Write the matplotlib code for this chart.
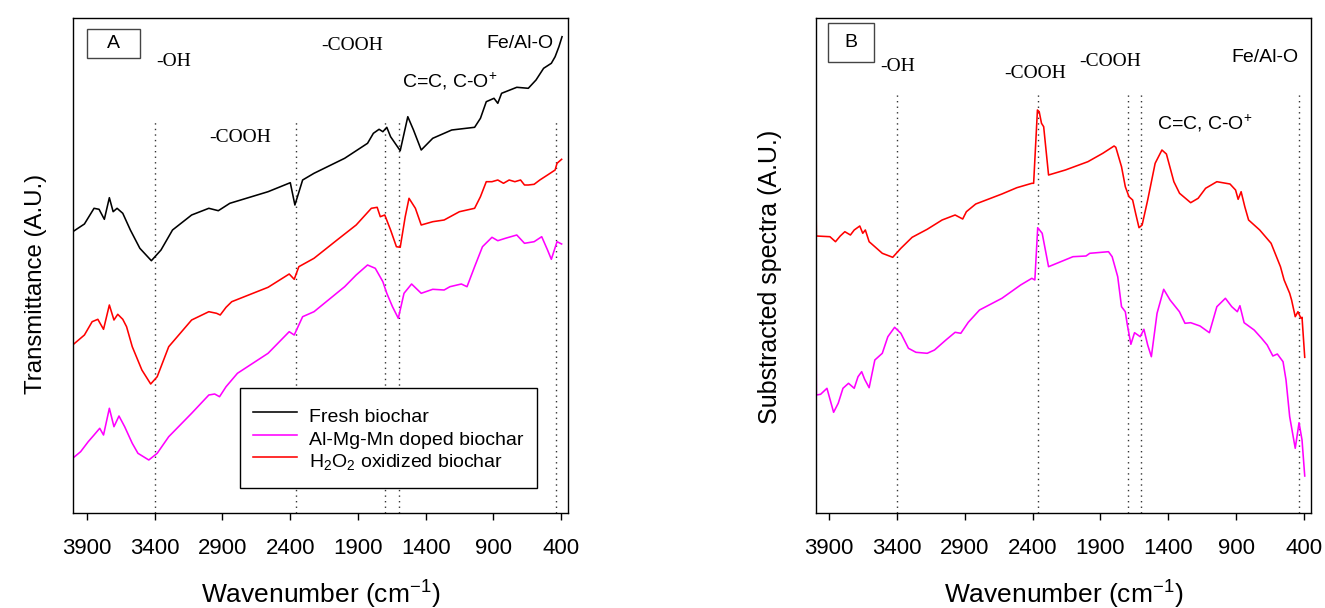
import matplotlib
matplotlib.use("Agg")
import matplotlib.pyplot as plt
from matplotlib.patches import Rectangle

plt.rcParams['font.family'] = ['Liberation Sans', 'DejaVu Sans']
plt.rcParams['mathtext.fontset'] = 'custom'
plt.rcParams['mathtext.rm'] = 'Liberation Sans'
plt.rcParams['mathtext.it'] = 'Liberation Sans:italic'
plt.rcParams['mathtext.bf'] = 'Liberation Sans:bold'

# ---------------- data (wavenumber, relative intensity in arbitrary units) ----------------
fresh_wn = [3996, 3918, 3847, 3810, 3771, 3734, 3706, 3677, 3635, 3579, 3509, 3424, 3353, 3268,
            3127, 3000, 2930, 2845, 2563, 2399, 2365, 2308, 2224, 1998, 1829, 1786, 1744, 1716,
            1687, 1659, 1588, 1532, 1490, 1433, 1348, 1208, 1039, 996, 953, 896, 868, 840, 728,
            643, 586, 530, 473, 445, 417, 394]
fresh_val = [282, 289, 304.7, 303.7, 293.7, 315.3, 301.3, 304.7, 299.7, 283, 264.7, 252.3, 263, 283,
             298, 304.7, 302.3, 309.7, 321.3, 330.3, 308, 333, 339.7, 354.7, 369.7, 379.7, 383.7, 381.3,
             385.7, 376.3, 362.3, 396.3, 383, 363, 374.7, 383, 385.7, 394.7, 411.3, 414.7, 409.7, 419.7,
             425.7, 424.7, 433, 444.7, 449.7, 456.3, 466.3, 476.3]

oxid_wn = [3996, 3918, 3861, 3819, 3777, 3734, 3700, 3672, 3635, 3607, 3565, 3494, 3429, 3381,
           3296, 3127, 3000, 2943, 2916, 2873, 2831, 2563, 2407, 2370, 2336, 2224, 2054, 1913,
           1801, 1758, 1735, 1702, 1659, 1616, 1588, 1551, 1523, 1476, 1433, 1348, 1264, 1151,
           1039, 996, 953, 911, 868, 826, 784, 742, 700, 671, 643, 600, 558, 501, 445, 431, 397]
oxid_val = [169, 178, 191.3, 193.7, 183.7, 208, 193, 198.7, 193.7, 186.3, 166.3, 143, 129, 136.3,
            166.3, 193, 201.3, 199.7, 198, 205.7, 211.3, 225.7, 239, 233.7, 246.3, 254.7, 273, 288,
            304.7, 305.7, 296.3, 298, 283, 266.3, 265.7, 296.3, 314.7, 304.7, 288, 291.3, 293, 301.3,
            304.7, 316.3, 331.3, 331.3, 333, 329.7, 333, 331.3, 333, 328, 328, 328.7, 333, 338, 343, 349.7, 353.7]

doped_wn = [3996, 3946, 3890, 3847, 3805, 3777, 3734, 3700, 3663, 3621, 3565, 3523, 3443, 3381,
            3296, 3127, 3000, 2957, 2921, 2873, 2789, 2563, 2407, 2370, 2308, 2224, 1998, 1913,
            1829, 1772, 1716, 1687, 1645, 1602, 1560, 1504, 1433, 1348, 1264, 1221, 1137, 1095,
            1039, 981, 911, 868, 812, 728, 671, 600, 544, 501, 473, 431, 397]
doped_val = [55.7, 61.3, 71.3, 78, 84.7, 78, 104.7, 86.3, 97, 86.3, 69.7, 59.7, 53, 59.7,
             76.3, 99.7, 118, 119, 116.3, 126.3, 139.7, 159.7, 181.3, 178, 196.3, 201.3, 226.3, 238,
             248, 244.7, 231.3, 219.7, 206.3, 194.7, 219.7, 229, 219.7, 223.7, 223, 226.3, 229, 226.3,
             246.3, 266.3, 275.7, 272.3, 274.7, 278, 269.7, 271.3, 276.3, 263, 253.7, 271.3, 269]

# Panel B: subtracted spectra
sub_oxid_wn = [3997, 3995, 3895, 3854, 3819, 3785, 3744, 3716, 3675, 3653, 3634, 3606, 3564, 3509,
               3432, 3372, 3289, 3178, 3068, 2972, 2916, 2889, 2820, 2627, 2517, 2406, 2393, 2365,
               2352, 2335, 2319, 2283, 2159, 1993, 1883, 1800, 1787, 1745, 1717, 1690, 1663, 1641,
               1616, 1593, 1552, 1497, 1447, 1414, 1359, 1317, 1235, 1180, 1125, 1042, 945, 904,
               885, 863, 836, 808, 726, 642, 573, 546, 505, 491, 464, 444, 422, 414, 394]
sub_oxid_val = [303, 277, 276.3, 271.3, 277, 281.3, 278, 283, 287, 279.7, 283, 271.3, 266.3, 259.7,
                255.7, 264.7, 275.7, 283.7, 293, 298, 294, 301.3, 309, 319, 325.3, 329.7, 329.7, 403,
                401.3, 389.7, 386.3, 338, 343, 351.3, 359.7, 367, 365.7, 346.3, 326.3, 316.3, 313, 299.7,
                285.3, 288, 313, 349.7, 363, 359, 331.3, 319.7, 310.3, 314.7, 324.7, 331.3, 329, 323,
                313.7, 321.3, 306.3, 293, 283, 269.7, 246.3, 233, 219.7, 213, 196.3, 201.3, 194.7, 195.7, 155.7]

sub_doped_wn = [3997, 3995, 3964, 3917, 3868, 3834, 3799, 3758, 3716, 3688, 3661, 3639, 3606, 3564,
                3509, 3468, 3418, 3372, 3316, 3261, 3178, 3124, 3040, 2972, 2930, 2875, 2792, 2627,
                2489, 2406, 2384, 2363, 2330, 2283, 2103, 2007, 1979, 1841, 1814, 1773, 1745, 1717,
                1704, 1676, 1649, 1607, 1580, 1552, 1525, 1483, 1434, 1387, 1318, 1277, 1235, 1166,
                1097, 1042, 979, 932, 891, 872, 841, 767, 712, 671, 629, 596, 554, 532, 505, 464,
                436, 414, 394]
sub_doped_val = [173, 118, 118.7, 124.7, 100.7, 109.7, 124.7, 129.7, 124.7, 136.3, 141.3, 133.7, 125.3, 153,
                 159.7, 176.3, 185.7, 179.7, 164.7, 160.7, 159.7, 163, 173, 180.7, 179.7, 190.7, 203, 214.7,
                 228, 234.7, 233, 285.3, 279.7, 246.3, 256.3, 257, 259.7, 261.3, 256.3, 236.3, 206.3, 201.3,
                 189.7, 168.7, 180.3, 176.3, 183.7, 168, 156.3, 199.7, 223.7, 213, 201.3, 189.7, 190.3, 187,
                 180.3, 206.3, 214.7, 206.3, 201.3, 207.3, 190.3, 183, 174.7, 168, 157, 159, 151.3, 133, 96.3, 64.7,
                 90.3, 73, 37]

xticks = [3900, 3400, 2900, 2400, 1900, 1400, 900, 400]
band_lines = [3400, 2360, 1700, 1600, 435]

# ---------------- figure ----------------
W, H = 1325, 608
fig = plt.figure(figsize=(W / 100, H / 100), dpi=100)


def px_axes(l, t, r, b):
    return fig.add_axes([l / W, 1 - b / H, (r - l) / W, (b - t) / H])


axA = px_axes(73.3, 18, 568, 513)
axB = px_axes(815.7, 18, 1310.7, 513)

LW = 1.15
for ax in (axA, axB):
    ax.set_xlim(4000, 350)
    ax.set_ylim(0, 495)
    ax.set_xticks(xticks)
    ax.set_xticklabels([str(t) for t in xticks], fontsize=16)
    ax.set_yticks([])
    ax.tick_params(axis='x', direction='out', length=5, width=1, pad=13)
    for s in ax.spines.values():
        s.set_linewidth(1.0)
        s.set_color('black')
    ax.set_xlabel('Wavenumber (cm$^{\\mathregular{-1}}$)', fontsize=19, labelpad=14)

# Panel A
axA.vlines(band_lines, 0, 393, colors='#333333', linestyles=(0, (1, 3)), linewidth=1.0)
axA.plot(fresh_wn, fresh_val, color='black', lw=LW, label='Fresh biochar')
axA.plot(doped_wn, doped_val, color='magenta', lw=LW, label='Al-Mg-Mn doped biochar')
axA.plot(oxid_wn, oxid_val, color='red', lw=LW, label='H$_{\\mathregular{2}}$O$_{\\mathregular{2}}$ oxidized biochar')
axA.set_ylabel('Transmittance (A.U.)', fontsize=17.3)
axA.yaxis.set_label_coords(-0.053, 0.4626)

leg = axA.legend(loc='upper left', bbox_to_anchor=(239.5 / W, 1 - 388.3 / H),
                 bbox_transform=fig.transFigure, fontsize=14, frameon=True, fancybox=False,
                 edgecolor='black', framealpha=1, borderpad=0.7, handlelength=2.25,
                 handleheight=1.82, handletextpad=0.6, labelspacing=-0.27, borderaxespad=0)
leg.get_frame().set_linewidth(1.0)

serif = ['Liberation Serif', 'DejaVu Serif']
axA.text(3387, 451.3, '-OH', family=serif, fontsize=14, ha='left', va='center')
axA.text(3000, 375.7, '-COOH', family=serif, fontsize=14, ha='left', va='center')
axA.text(2168, 467.3, '-COOH', family=serif, fontsize=14, ha='left', va='center')
axA.text(1574, 432, 'C=C, C-O$^{\\mathregular{+}}$', fontsize=14, ha='left', va='center')
axA.text(953, 469.7, 'Fe/Al-O', fontsize=14, ha='left', va='center')

axA.add_patch(Rectangle((0.027, 0.9186), 0.108, 0.0584, transform=axA.transAxes,
                        fill=False, edgecolor='#444444', lw=1.0))
axA.text(0.081, 0.9478, 'A', transform=axA.transAxes, fontsize=14, ha='center', va='center')

# Panel B
axB.vlines(band_lines, 0, 419.7, colors='#333333', linestyles=(0, (1, 3)), linewidth=1.0)
axB.plot(sub_oxid_wn, sub_oxid_val, color='red', lw=LW)
axB.plot(sub_doped_wn, sub_doped_val, color='magenta', lw=LW)
axB.set_ylabel('Substracted spectra (A.U.)', fontsize=18)
axB.yaxis.set_label_coords(-0.068, 0.4768)

axB.text(3524, 446.3, '-OH', family=serif, fontsize=14, ha='left', va='center')
axB.text(2609, 439, '-COOH', family=serif, fontsize=14, ha='left', va='center')
axB.text(2057, 451.3, '-COOH', family=serif, fontsize=14, ha='left', va='center')
axB.text(934, 455.7, 'Fe/Al-O', fontsize=14, ha='left', va='center')
axB.text(1483, 389.7, 'C=C, C-O$^{\\mathregular{+}}$', fontsize=14, ha='left', va='center')

axB.add_patch(Rectangle((0.0255, 0.9105), 0.0925, 0.08, transform=axB.transAxes,
                        fill=False, edgecolor='#444444', lw=1.0))
axB.text(0.072, 0.9505, 'B', transform=axB.transAxes, fontsize=14, ha='center', va='center')

fig.savefig('out.png', dpi=100)
